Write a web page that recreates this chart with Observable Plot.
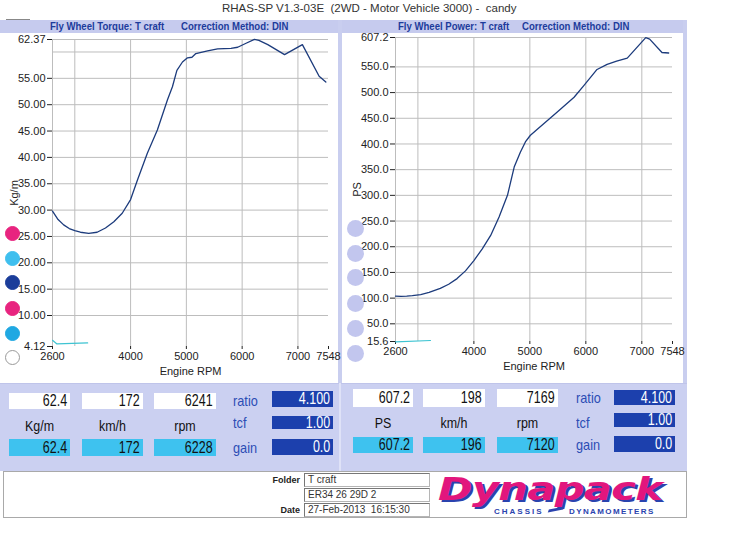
<!DOCTYPE html>
<html><head><meta charset="utf-8">
<script src="https://cdn.jsdelivr.net/npm/d3@7"></script>
<script src="https://cdn.jsdelivr.net/npm/@observablehq/plot@0.6"></script>
<style>
body{margin:0;background:#fff;font-family:"Liberation Sans",Arial,sans-serif;}
#page{position:relative;width:750px;height:545px;overflow:hidden;background:#fff;}
.a{position:absolute;box-sizing:border-box;}
.t{position:absolute;white-space:pre;}
</style></head><body><div id="page"></div>
<script>
// ---------- data ----------
const title = "RHAS-SP V1.3-03E  (2WD - Motor Vehicle 3000) -  candy";
const torqueHeader = ["Fly Wheel Torque: T craft", "Correction Method: DIN"];
const powerHeader = ["Fly Wheel Power: T craft", "Correction Method: DIN"];

const torqueRpm = [2600,2700,2800,2900,3000,3100,3250,3400,3550,3700,3850,4000,4120,4300,4480,4660,4750,4830,4930,5020,5100,5170,5380,5560,5800,5920,6080,6220,6300,6460,6760,7080,7380,7500];
const torqueKgm = [29.8,28.2,27.2,26.5,26.1,25.8,25.6,25.8,26.6,27.8,29.4,32.0,35.6,40.8,45.2,50.9,53.4,56.5,58.1,58.9,59.0,59.7,60.2,60.6,60.7,60.9,61.7,62.4,62.2,61.4,59.5,61.4,55.4,54.3];
const powerRpm = [2600,2700,2800,2900,3050,3200,3400,3550,3700,3850,4000,4150,4300,4450,4600,4720,4830,4920,5010,5190,5490,5790,5960,6200,6380,6550,6740,7070,7140,7360,7480];
const powerPS = [104,103.5,104,105,107,111,119,127,138,153,173,196,222,258,300,355,384,404,417,434,462,491,513,545,555,561,567,607,604,578,577];

const torqueBaseRpm = [2600,2680,3230];
const torqueBase = [5.3,4.6,4.8];
const powerBaseRpm = [2600,3225];
const powerBase = [15.0,17.5];

const rpmTicks = [2600,4000,5000,6000,7000,7548];
const rpmGrid = [3000,4000,5000,6000,7000];
const torqueTicks = [4.12,10,15,20,25,30,35,40,45,50,55,62.37];
const torqueGrid = [10,15,20,25,30,35,40,45,50,55,60];
const powerTicks = [15.6,50,100,150,200,250,300,350,400,450,500,550,607.2];
const powerGrid = [50,100,150,200,250,300,350,400,450,500,550];

const torqueUnits = ["Kg/m","km/h","rpm"];
const torqueTop = ["62.4","172","6241"];
const torqueBottom = ["62.4","172","6228"];
const powerUnits = ["PS","km/h","rpm"];
const powerTop = ["607.2","198","7169"];
const powerBottom = ["607.2","196","7120"];
const factorNames = ["ratio","tcf","gain"];
const factorValues = ["4.100","1.00","0.0"];
const leftButtons = ["#e8247f","#3fbfee","#1b3d9a","#e8247f","#1fa8e2","#ffffff"];
const rightButtons = ["#c2c6ee","#c2c6ee","#c2c6ee","#c2c6ee","#c2c6ee","#c2c6ee"];
const footerLabels = ["Folder","","Date"];
const footerValues = ["T craft","ER34 26 29D 2","27-Feb-2013  16:15:30"];

// ---------- helpers ----------
const page = document.getElementById("page");
function box(l,t,w,h,css){const d=document.createElement("div");d.className="a";d.style.cssText=`left:${l}px;top:${t}px;width:${w}px;height:${h}px;`+(css||"");page.appendChild(d);return d;}
function txt(l,t,s,css){const d=document.createElement("div");d.className="t";d.style.cssText=`left:${l}px;top:${t}px;`+(css||"");d.textContent=s;page.appendChild(d);return d;}

// ---------- frame / panels ----------
txt(222,2,title,"font-size:11.5px;color:#333;");
box(6,19,24,1,"background:#888;");
box(0,20,687,13,"background:#c6cbee;");
box(338,20,4,363,"background:#c9ceef;");
box(683,20,4,451,"background:#c9ceef;");
box(0,383,687,88,"background:#cbd0f1;border-top:1px solid #bfc4ea;");
box(339,383,2,88,"background:#dfe2f7;");

const hdr = "font-size:11px;line-height:13px;font-weight:bold;color:#1d3c9c;transform:scaleX(0.87);transform-origin:left;";
txt(50,20,torqueHeader[0],hdr);
txt(181,20,torqueHeader[1],hdr);
txt(398,20,powerHeader[0],hdr);
txt(522,20,powerHeader[1],hdr);

// ---------- charts ----------
function chart(o){
  const main = o.xs.map((x,i)=>({x, y:o.ys[i]}));
  const base = o.bx.map((x,i)=>({x, y:o.by[i]}));
  const grid = {stroke:"#bdbdbd", strokeOpacity:1, strokeWidth:1};
  return Plot.plot({
    width:o.w, height:o.h, marginLeft:o.mL, marginRight:o.mR, marginTop:o.mT, marginBottom:o.mB,
    style:{background:"transparent", fontFamily:"Liberation Sans, Arial, sans-serif", fontSize:"11px", color:"#222", overflow:"visible"},
    x:{domain:[rpmTicks[0], rpmTicks[rpmTicks.length-1]]},
    y:{domain:o.yDomain},
    marks:[
      Plot.gridX(rpmGrid, grid),
      Plot.gridY(o.yGrid, grid),
      Plot.ruleY([o.yDomain[1]], {stroke:"#bdbdbd"}),
      Plot.ruleX([rpmTicks[0]], {stroke:"#bdbdbd"}),
      Plot.axisY({ticks:o.yTicks, tickFormat:o.fmt, tickSize:5, tickPadding:2, label:o.label, labelAnchor:"center", labelArrow:"none", labelOffset:42}),
      Plot.axisX({ticks:rpmTicks, tickFormat:d=>String(d), tickSize:3, tickPadding:3, label:"Engine RPM", labelAnchor:"center", labelArrow:"none", labelOffset:28}),
      Plot.line(base, {x:"x", y:"y", stroke:"#3ec4d2", strokeWidth:1.2}),
      Plot.line(main, {x:"x", y:"y", stroke:"#1c3b7c", strokeWidth:1.3})
    ]
  });
}
const c1 = chart({xs:torqueRpm, ys:torqueKgm, bx:torqueBaseRpm, by:torqueBase, w:337, h:349, mL:52, mR:9, mT:6, mB:36,
  yDomain:[torqueTicks[0], torqueTicks[torqueTicks.length-1]], yTicks:torqueTicks, yGrid:torqueGrid, fmt:d3.format(".2f"), label:"Kg/m"});
const w1 = box(0,33,337,349,""); w1.appendChild(c1);
const c2 = chart({xs:powerRpm, ys:powerPS, bx:powerBaseRpm, by:powerBase, w:340, h:349, mL:52, mR:11, mT:4, mB:41,
  yDomain:[powerTicks[0], powerTicks[powerTicks.length-1]], yTicks:powerTicks, yGrid:powerGrid, fmt:d3.format(".1f"), label:"PS"});
const w2 = box(343,33,340,349,""); w2.appendChild(c2);

// legend buttons
const lby = [233,258,282,308,333,357];
leftButtons.forEach((c,i)=>box(5,lby[i]-7,15,15,`border-radius:50%;background:${c};border:1px solid ${c==="#ffffff"?"#9a9a9a":c};`));
const rby = [228,253,277,303,328,353];
rightButtons.forEach((c,i)=>box(347,rby[i]-8,17,17,`border-radius:50%;background:${c};`));

// ---------- readouts ----------
function numBox(l,t,w,h,bg,s,color){
  const b = box(l,t,w,h,`background:${bg};overflow:visible;`);
  const sp = document.createElement("div");
  sp.className="t";
  sp.style.cssText=`right:3px;top:${(h-18)/2}px;font-size:16px;line-height:18px;color:${color};transform:scaleX(0.78);transform-origin:right;`;
  sp.textContent=s; b.appendChild(sp);
}
function readout(o){
  o.top.forEach((s,i)=>numBox(o.xs[i],o.y1,o.ws[i],o.h1,"#ffffff",s,"#111"));
  o.bottom.forEach((s,i)=>numBox(o.xs[i],o.y3,o.ws[i],o.h3,"#3ec2ef",s,"#111"));
  o.units.forEach((s,i)=>{txt(o.xs[i],o.y2-9,s,`width:${o.ws[i]}px;text-align:center;font-size:15px;line-height:18px;color:#111;transform:scaleX(0.83);`);});
  factorNames.forEach((s,i)=>txt(o.fx,o.fy[i]-9,s,"font-size:15px;line-height:18px;color:#2b4db5;transform:scaleX(0.85);transform-origin:left;"));
  factorValues.forEach((s,i)=>numBox(o.dx,o.dy[i],61,o.dh[i],"#1c40ad",s,"#fff"));
}
readout({top:torqueTop,bottom:torqueBottom,units:torqueUnits,xs:[9,82,154],ws:[61,61,62],y1:393,h1:16,y2:426,y3:439,h3:17,
  fx:233,fy:[401,423,448],dx:272,dy:[391,416,439],dh:[16,13,16]});
readout({top:powerTop,bottom:powerBottom,units:powerUnits,xs:[353,423,497],ws:[60,62,61],y1:389,h1:18,y2:423,y3:437,h3:16,
  fx:576,fy:[398,423,445],dx:614,dy:[390,413,436],dh:[15,14,16]});

// ---------- footer ----------
box(3,471,684,47,"background:#fff;border:1px solid #a9a9a9;");
const fy = [473,488,503];
footerValues.forEach((s,i)=>{
  const b=box(304,fy[i],126,14,"background:#fff;border:1px solid #b5b5b5;border-left-color:#777;border-top-color:#777;");
  const d=document.createElement("div");d.className="t";d.style.cssText="left:3px;top:0;font-size:10px;line-height:12px;color:#333;";d.textContent=s;b.appendChild(d);
  if(footerLabels[i]) txt(250,fy[i]+1,footerLabels[i],"width:50px;text-align:right;font-size:9px;line-height:12px;font-weight:bold;color:#222;");
});
// logo
txt(438,474,"Dynapack","font-family:'DejaVu Sans',sans-serif;font-size:32px;line-height:30px;font-weight:bold;font-style:italic;color:#e2167d;text-shadow:2px 2px 0 #2a43ae;transform:scaleX(1.3);transform-origin:left;letter-spacing:-0.5px;");
txt(494,507,"CHASSIS","font-size:8px;line-height:10px;font-weight:bold;letter-spacing:2px;color:#2a43ae;");
box(549,508,14,3,"background:#2a43ae;transform:skewX(-30deg) rotate(-12deg);");
txt(569,507,"DYNAMOMETERS","font-size:8px;line-height:10px;font-weight:bold;letter-spacing:1.4px;color:#2a43ae;");
</script></body></html>
